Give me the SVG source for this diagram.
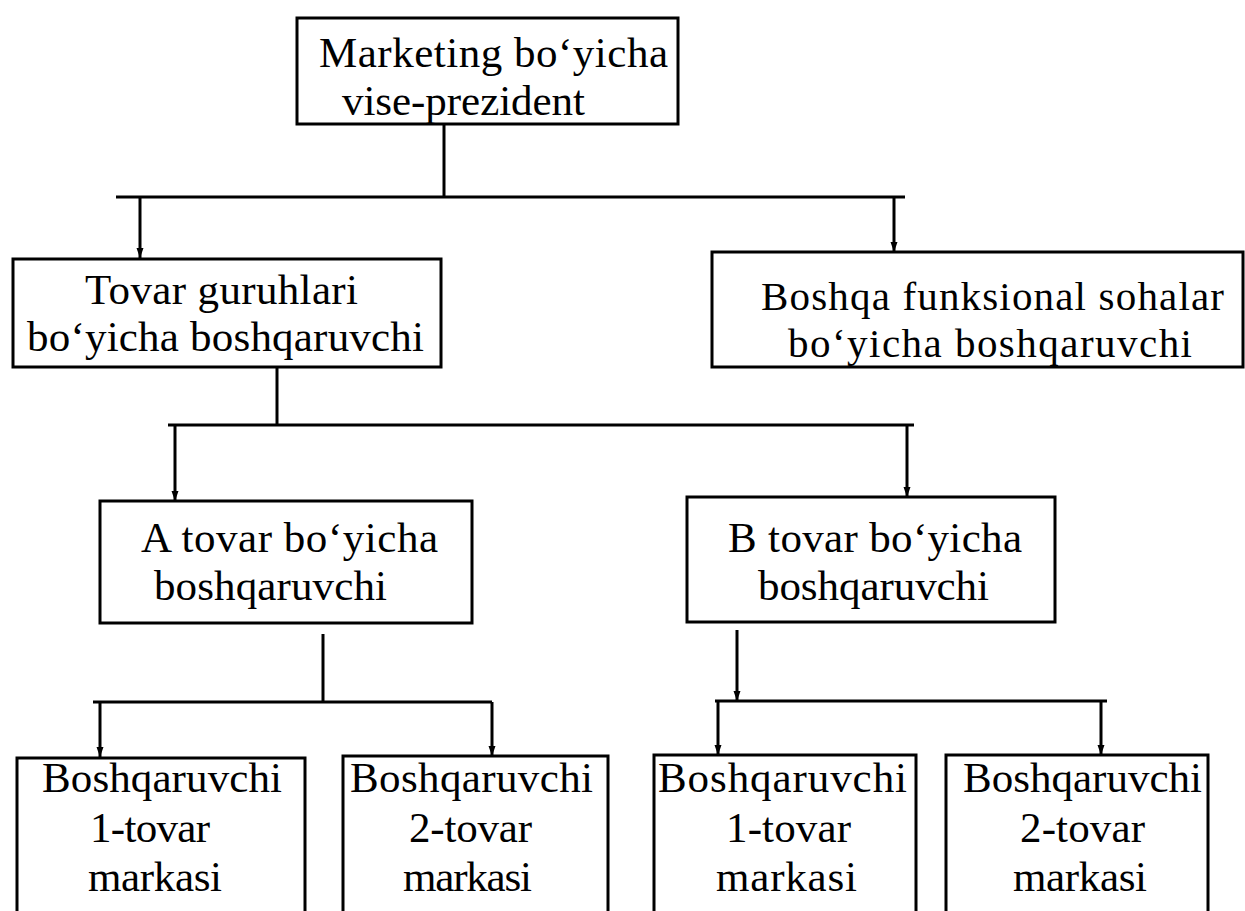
<svg xmlns="http://www.w3.org/2000/svg" width="1245" height="911" viewBox="0 0 1245 911">
<defs>
<marker id="arr" markerUnits="userSpaceOnUse" markerWidth="10" markerHeight="8" refX="10" refY="4" orient="auto">
<path d="M0,0.5 L10,4 L0,7.5 z" fill="#000"/>
</marker>
<style>
.box{fill:#fff;stroke:#000;stroke-width:3}
.t{font-family:"Liberation Serif","Times New Roman",serif;font-size:43px;fill:#000}
.s{font-size:41px}
.c{fill:none;stroke:#000;stroke-width:3}
.a{fill:none;stroke:#000;stroke-width:3;marker-end:url(#arr)}
</style>
</defs>
<rect x="0" y="0" width="1245" height="911" fill="#fff"/>
<g id="connectors">
<path class="c" d="M444,124 V197"/>
<path class="c" d="M116,197 H905"/>
<path class="a" d="M140,197 V258"/>
<path class="a" d="M894,197 V252"/>
<path class="c" d="M277,367 V425"/>
<path class="c" d="M168,425 H914"/>
<path class="a" d="M175,425 V501"/>
<path class="a" d="M907,425 V497"/>
<path class="c" d="M323,634 V702"/>
<path class="c" d="M93,702 H492"/>
<path class="a" d="M100,702 V757"/>
<path class="a" d="M492,702 V756"/>
<path class="a" d="M737,630 V701"/>
<path class="c" d="M715,701 H1107"/>
<path class="a" d="M718,701 V755"/>
<path class="a" d="M1101,701 V755"/>
</g>
<g id="vp">
<rect class="box" x="297" y="18" width="381" height="106"/>
<text class="t" x="319" y="67" textLength="349">Marketing bo‘yicha</text>
<text class="t" x="342" y="115" textLength="243">vise-prezident</text>
</g>
<g id="tovar">
<rect class="box" x="13" y="259" width="428" height="108"/>
<text class="t" x="85" y="304" textLength="273">Tovar guruhlari</text>
<text class="t" x="27" y="351" textLength="397">bo‘yicha boshqaruvchi</text>
</g>
<g id="boshqa">
<rect class="box" x="712" y="252" width="531" height="115"/>
<text class="t s" x="761" y="310" textLength="463">Boshqa funksional sohalar</text>
<text class="t s" x="788" y="357" textLength="404">bo‘yicha boshqaruvchi</text>
</g>
<g id="a-tovar">
<rect class="box" x="100" y="501" width="372" height="122"/>
<text class="t" x="141" y="552" textLength="297">A tovar bo‘yicha</text>
<text class="t" x="154" y="600" textLength="233">boshqaruvchi</text>
</g>
<g id="b-tovar">
<rect class="box" x="687" y="497" width="368" height="125"/>
<text class="t" x="728" y="552" textLength="294">B tovar bo‘yicha</text>
<text class="t" x="758" y="600" textLength="231">boshqaruvchi</text>
</g>
<g id="a1">
<rect class="box" x="17" y="758" width="288" height="175"/>
<text class="t" x="42" y="792" textLength="240">Boshqaruvchi</text>
<text class="t" x="90" y="842" textLength="120">1-tovar</text>
<text class="t" x="88" y="891" textLength="134">markasi</text>
</g>
<g id="a2">
<rect class="box" x="343" y="756" width="265" height="177"/>
<text class="t" x="350" y="792" textLength="243">Boshqaruvchi</text>
<text class="t" x="409" y="842" textLength="123">2-tovar</text>
<text class="t" x="403" y="891" textLength="129">markasi</text>
</g>
<g id="b1">
<rect class="box" x="654" y="755" width="262" height="178"/>
<text class="t" x="658" y="792" textLength="249">Boshqaruvchi</text>
<text class="t" x="726" y="842" textLength="125">1-tovar</text>
<text class="t" x="716" y="891" textLength="141">markasi</text>
</g>
<g id="b2">
<rect class="box" x="946" y="755" width="262" height="178"/>
<text class="t" x="963" y="792" textLength="239">Boshqaruvchi</text>
<text class="t" x="1020" y="842" textLength="125">2-tovar</text>
<text class="t" x="1013" y="891" textLength="134">markasi</text>
</g>
</svg>
